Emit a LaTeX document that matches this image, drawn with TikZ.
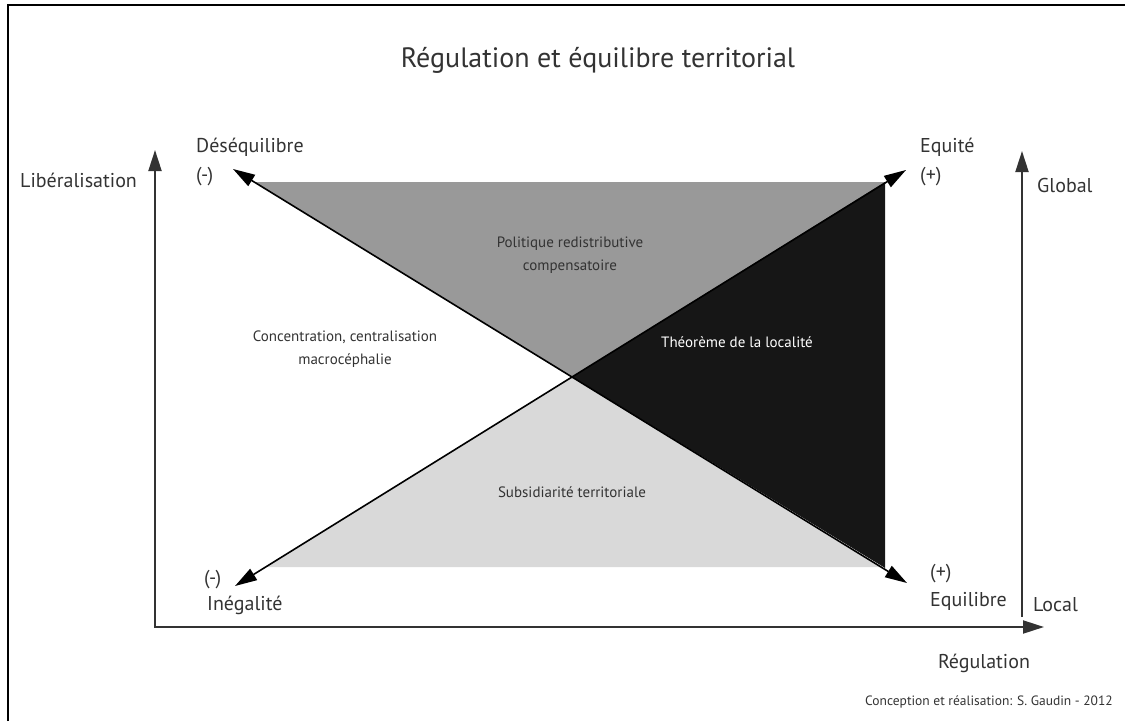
\documentclass[tikz,border=0pt]{standalone}
\usepackage{fontspec}
\setmainfont{PT Sans}
\usetikzlibrary{arrows.meta}
\definecolor{zonegray}{HTML}{999999}
\definecolor{zoneblack}{HTML}{161616}
\definecolor{zonelight}{HTML}{D9D9D9}
\definecolor{labelgray}{HTML}{333333}
\tikzset{
  axisarrow/.style={line width=2pt, draw=labelgray, -{Triangle[length=21pt,width=13pt]}},
  diagarrow/.style={line width=1.6pt, draw=black, -{Triangle[length=22pt,width=13pt]}},
  lbl/.style={text=labelgray, font=\fontsize{20}{24}\selectfont, inner sep=0pt},
  zonelbl/.style={text=labelgray, font=\fontsize{15}{23}\selectfont, align=center, inner sep=0pt},
}
\begin{document}
\begin{tikzpicture}[x=1pt,y=-1pt]
  \useasboundingbox (0,0) rectangle (1125,721);
  % frame
  \draw [line width=2pt, black] (8,721) -- (8,5) -- (1125,5);

  % zones
  \coordinate (mid) at (572,377);
  \fill [zonegray] (254,182) -- (885,182) -- (mid) -- cycle;
  \fill [zoneblack] (885,182) -- (885,568) -- (mid) -- cycle;
  \fill [zonelight] (266,567) -- (883,567) -- (mid) -- cycle;

  % axes
  \coordinate (origin) at (155,627);
  \coordinate (libtip) at (155,150);
  \coordinate (regtip) at (1044,627);
  \coordinate (localend) at (1022,617);
  \coordinate (globaltip) at (1022,151);
  \draw [axisarrow] (origin) -- (libtip);
  \draw [axisarrow] ([xshift=-1pt]origin) -- (regtip);
  \draw [axisarrow] (localend) -- (globaltip);

  % diagonals
  \coordinate (desq) at (233,169);
  \coordinate (equil) at (907,583);
  \coordinate (ineg) at (235,586);
  \coordinate (equite) at (906,170);
  \draw [diagarrow] (mid) -- (desq);
  \draw [diagarrow] (mid) -- (equil);
  \draw [diagarrow] (mid) -- (ineg);
  \draw [diagarrow] (mid) -- (equite);

  % labels
  \node [text=labelgray, font=\fontsize{28}{32}\selectfont, inner sep=0pt] (title) at (598,60) {Régulation et équilibre territorial};
  \node [lbl, anchor=west] (lib) at (20,180) {Libéralisation};
  \node [lbl, anchor=west] (desqlbl) at (196,147) {Déséquilibre};
  \node [lbl, anchor=west] (desqsign) at (196,177) {(-)};
  \node [lbl, anchor=west] (equitelbl) at (920,147) {Equité};
  \node [lbl, anchor=west] (equitesign) at (920,177) {(+)};
  \node [lbl, anchor=west] (global) at (1037,185) {Global};
  \node [lbl, anchor=west] (inegsign) at (204,580) {(-)};
  \node [lbl, anchor=west] (ineglbl) at (207,605) {Inégalité};
  \node [lbl, anchor=west] (equilsign) at (930,574) {(+)};
  \node [lbl, anchor=west] (equillbl) at (930,601) {Equilibre};
  \node [lbl, anchor=west] (local) at (1033,605) {Local};
  \node [lbl] (reg) at (984,663) {Régulation};
  \node [text=labelgray, font=\fontsize{13.5}{16}\selectfont, inner sep=0pt, anchor=east] (credit) at (1113,702) {Conception et réalisation: S. Gaudin - 2012};

  \node [zonelbl] (redis) at (570,255) {Politique redistributive\\compensatoire};
  \node [zonelbl] (concen) at (345,349) {Concentration, centralisation\\macrocéphalie};
  \node [zonelbl, text=white] (theoreme) at (737,342) {Théorème de la localité};
  \node [zonelbl] (subsid) at (572,492) {Subsidiarité territoriale};
\end{tikzpicture}
\end{document}
